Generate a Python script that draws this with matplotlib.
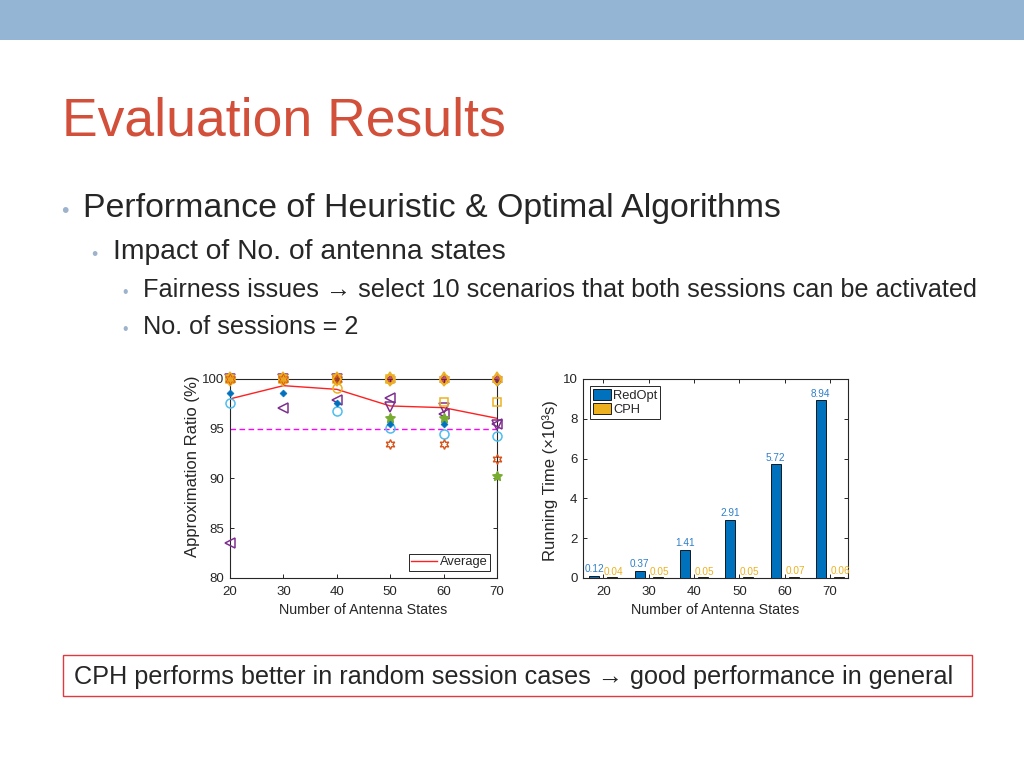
import matplotlib
matplotlib.use("Agg")
import matplotlib.pyplot as plt
import numpy as np
from matplotlib.patches import Rectangle

plt.rcParams['font.family'] = ['Liberation Sans', 'DejaVu Sans']

# ---------------- data ----------------
antenna_states = [20, 30, 40, 50, 60, 70]

# approximation ratio (%) of the 10 scenarios
scen_blue_dot   = [98.56, 98.56, 97.6, 95.5, 95.5, 99.7]
scen_orange_hex = [100, 100, 100, 93.5, 93.47, 92.0]
scen_yellow_o   = [100, 100, 99.06, 100, 100, 100]
scen_purple_lt  = [83.5, 97.05, 97.9, 98.05, 96.5, 95.5]
scen_green_star = [100, 100, 100, 96.05, 96.05, 90.3]
scen_cyan_o     = [97.55, 100, 96.8, 95.04, 94.47, 94.3]
scen_purple_v   = [100, 100, 100, 97.2, 97.05, 95.4]
scen_yellow_sq  = [100, 100, 100, 100, 97.65, 97.65]
scen_yellow_d   = [100, 100, 100, 100, 100, 100]
scen_brown_hex  = [100, 100, 100, 100, 100, 100]
average_ratio   = [98.0, 99.33, 98.96, 97.29, 97.12, 96.05]
threshold = 95

redopt_time = [0.12, 0.37, 1.41, 2.91, 5.72, 8.94]
cph_time    = [0.04, 0.05, 0.05, 0.05, 0.07, 0.06]

title = "Evaluation Results"
bullets = [
    (1, "Performance of Heuristic & Optimal Algorithms"),
    (2, "Impact of No. of antenna states"),
    (3, "Fairness issues \u2192 select 10 scenarios that both sessions can be activated"),
    (3, "No. of sessions = 2"),
]
conclusion = "CPH performs better in random session cases \u2192 good performance in general"

# ---------------- figure ----------------
W, H = 1024, 768
fig = plt.figure(figsize=(W / 100, H / 100), dpi=100)

def px(x, y):
    return x / W, 1 - y / H

# header bar
fig.patches.append(Rectangle((0, 1 - 40 / H), 1, 40 / H, transform=fig.transFigure,
                             facecolor='#94B6D4', edgecolor='none', zorder=0))

# title
fig.text(*px(62, 136), title, fontsize=38.5, color='#D24F3A', va='baseline', ha='left')

text_col = '#262626'
bullet_col = '#9DB3CC'
levels = {1: (61, 83, 24.4), 2: (91, 113, 20.3), 3: (122, 143, 18.2)}
baselines = [217, 259, 297, 334]
for (lvl, txt), yb in zip(bullets, baselines):
    bx, tx, fs = levels[lvl]
    fig.text(*px(bx, yb), "\u2022", fontsize=fs * 0.62, color=bullet_col, va='baseline', ha='left')
    fig.text(*px(tx, yb), txt, fontsize=fs, color=text_col, va='baseline', ha='left')

# conclusion box
fig.patches.append(Rectangle(px(63, 696), (972 - 63) / W, (696 - 655) / H, transform=fig.transFigure,
                             facecolor='white', edgecolor='#E0393E', linewidth=1.0, zorder=1))
fig.text(*px(74, 684), conclusion, fontsize=18.2, color=text_col, va='baseline', ha='left', zorder=2)

# MATLAB colours
c_blue = '#0072BD'
c_orange = '#D95319'
c_yellow = '#EDB120'
c_purple = '#7E2F8E'
c_green = '#77AC30'
c_cyan = '#4DBEEE'
c_brown = '#A2142F'
axc = '#262626'

def matlab_style(ax):
    for s in ax.spines.values():
        s.set_color(axc)
        s.set_linewidth(0.8)
    ax.tick_params(direction='in', top=True, right=True, length=3, width=0.7,
                   labelsize=9.5, colors=axc, pad=4)
    ax.tick_params(axis='x', pad=6)

hexagram = (6, 1, 0)
pentagram = (5, 1, 0)

# ---------------- left chart ----------------
ax1 = fig.add_axes([230 / W, 1 - 578 / H, 267 / W, 199 / H])
ax1.set_xlim(20, 70)
ax1.set_ylim(80, 100)
ax1.set_xticks(antenna_states)
ax1.set_yticks([80, 85, 90, 95, 100])
matlab_style(ax1)

ax1.axhline(threshold, color='#FF00FF', linestyle=(0, (4, 2.5)), linewidth=1.0, zorder=2)
line_avg, = ax1.plot(antenna_states, average_ratio, color='#FF2020', linewidth=1.0, zorder=3, label='Average')

mk = dict(clip_on=False, linestyle='none')
ax1.plot(antenna_states, scen_purple_v, marker='v', ms=6.5, mfc='none', mec=c_purple, mew=1.1, zorder=4, **mk)
ax1.plot(antenna_states, scen_cyan_o, marker='o', ms=6.5, mfc='none', mec=c_cyan, mew=1.1, zorder=4, **mk)
ax1.plot(antenna_states, scen_purple_lt, marker='<', ms=6.5, mfc='none', mec=c_purple, mew=1.1, zorder=4, **mk)
ax1.plot(antenna_states, scen_green_star, marker=pentagram, ms=7.5, mfc=c_green, mec=c_green, mew=0.8, zorder=4, **mk)
ax1.plot(antenna_states, scen_blue_dot, marker='D', ms=3.5, mfc=c_blue, mec=c_blue, mew=0.5, zorder=5, **mk)
ax1.plot(antenna_states, scen_brown_hex, marker=hexagram, ms=8, mfc=c_brown, mec=c_brown, mew=0.8, alpha=0.7, zorder=5, **mk)
ax1.plot(antenna_states, scen_yellow_sq, marker='s', ms=5.5, mfc='none', mec=c_yellow, mew=1.1, zorder=6, **mk)
ax1.plot(antenna_states, scen_yellow_o, marker='o', ms=6.5, mfc='none', mec=c_yellow, mew=1.1, zorder=6, **mk)
ax1.plot(antenna_states, scen_orange_hex, marker=hexagram, ms=7, mfc='none', mec=c_orange, mew=1.0, zorder=6, **mk)
ax1.plot(antenna_states, scen_yellow_d, marker='d', ms=7, mfc='none', mec=c_yellow, mew=1.1, zorder=7, **mk)
# filled hexagram look at the top for the first two groups
ax1.plot(antenna_states[:2], scen_orange_hex[:2], marker=hexagram, ms=8, mfc=c_yellow, mec=c_orange,
         mew=0.6, alpha=0.9, zorder=8, **mk)

ax1.set_xlabel('Number of Antenna States', fontsize=10.3, color=axc, labelpad=3)
ax1.set_ylabel('Approximation Ratio (%)', fontsize=12, color=axc)
ax1.yaxis.set_label_coords(-0.112, 0.56)
leg1 = ax1.legend(handles=[line_avg], loc='lower right', fontsize=9.3, fancybox=False,
                  edgecolor=axc, framealpha=1, borderpad=0.2, handlelength=2.0,
                  borderaxespad=0.55, handletextpad=0.2)
leg1.get_frame().set_linewidth(0.7)
for t in leg1.get_texts():
    t.set_color(axc)

# ---------------- right chart ----------------
ax2 = fig.add_axes([583 / W, 1 - 578 / H, 265 / W, 199 / H])
pos = np.arange(1, len(antenna_states) + 1)
bw = 0.22
off = 0.2
ax2.bar(pos - off, redopt_time, bw, color=c_blue, edgecolor='black', linewidth=0.6, label='RedOpt', zorder=3)
ax2.bar(pos + off, cph_time, bw, color=c_yellow, edgecolor='black', linewidth=0.6, label='CPH', zorder=3)
ax2.set_xlim(0.55, 6.4)
ax2.set_ylim(0, 10)
ax2.set_xticks(pos)
ax2.set_xticklabels([str(v) for v in antenna_states])
ax2.set_yticks([0, 2, 4, 6, 8, 10])
matlab_style(ax2)

for p, v in zip(pos, redopt_time):
    ax2.text(p - off, v + 0.08, f"{v:.2f}", ha='center', va='bottom', fontsize=7.2, color='#2E7FC8')
for p, v in zip(pos, cph_time):
    ax2.text(p + off + 0.03, v + 0.02, f"{v:.2f}", ha='center', va='bottom', fontsize=7.2, color=c_yellow)

ax2.set_xlabel('Number of Antenna States', fontsize=10.3, color=axc, labelpad=3)
ax2.set_ylabel('Running Time (\u00d710\u00b3s)', fontsize=12, color=axc)
ax2.yaxis.set_label_coords(-0.094, 0.49)
leg2 = ax2.legend(loc='upper left', fontsize=9.3, fancybox=False, edgecolor=axc, framealpha=1,
                  borderpad=0.2, handlelength=1.45, handleheight=0.95, handletextpad=0.15,
                  labelspacing=0.1, borderaxespad=0.55)
leg2.get_frame().set_linewidth(0.7)
for t in leg2.get_texts():
    t.set_color(axc)

fig.savefig('out.png', dpi=100)
